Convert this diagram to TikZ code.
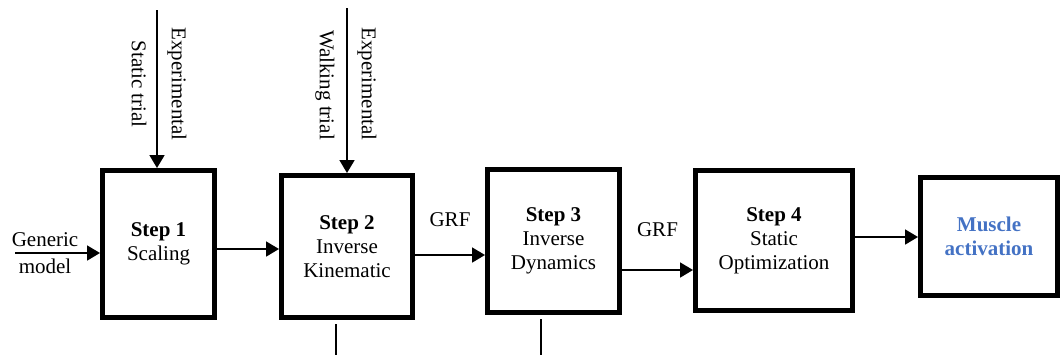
\documentclass[tikz,border=0pt]{standalone}
\usepackage{fontspec}
\setmainfont{Liberation Serif}
\usepackage{tikz}
\usetikzlibrary{arrows.meta,calc,positioning}
\definecolor{actblue}{RGB}{68,114,196}

\begin{document}
\begin{tikzpicture}[x=0.5pt,y=-0.5pt,font=\fontsize{10.5}{12}\selectfont,
stepbox/.style={draw,line width=2.5pt,align=center,inner sep=0pt},
arr/.style={-{Triangle[length=6.5pt,width=7.5pt]},line width=0.9pt},
vlabel/.style={rotate=-90,inner sep=1pt}]
\useasboundingbox (0,0) rectangle (1063,355);
\node (step1) at (158.5,244)[stepbox,minimum width=56pt,minimum height=73.5pt] {\textbf{Step 1}\\Scaling};
\node (step2) at (347,246.5)[stepbox,minimum width=65.5pt,minimum height=71pt] {\textbf{Step 2}\\Inverse\\Kinematic};
\node (step3) at (553.5,241)[stepbox,minimum width=66pt,minimum height=71.5pt] {\textbf{Step 3}\\Inverse\\Dynamics};
\node (step4) at (774,240.5)[stepbox,minimum width=78.5pt,minimum height=70pt] {\textbf{Step 4}\\Static\\Optimization};
\node (act) at (989,236.5)[stepbox,minimum width=68.5pt,minimum height=59pt,text=actblue,font=\fontsize{10.5}{12}\selectfont\bfseries] {Muscle\\activation};

% inputs
\coordinate (gen) at (15,253);
\node (genlbl) at (45,253)[align=center,inner sep=0pt] {Generic\\[1.5pt]model};
\draw[arr] (gen) -- (gen -| step1.west);

\coordinate (in1) at (157,10);
\coordinate (in2) at (347,8);
\draw[arr] (in1) -- (in1 |- step1.north);
\draw[arr] (in2) -- (in2 |- step2.north);
\node (exp1) at (177,84)[vlabel] {Experimental};
\node (stat) at (139,84)[vlabel] {Static trial};
\node (exp2) at (367,84)[vlabel] {Experimental};
\node (walk) at (325,85)[vlabel] {Walking trial};

% chain
\draw[arr] ([yshift=-2.5pt]step1.east) -- ([yshift=-2.5pt]step1.east -| step2.west);
\draw[arr] ([yshift=-4.25pt]step2.east) -- ([yshift=-4.25pt]step2.east -| step3.west) node[midway,above=10.5pt] {GRF};
\draw[arr] ([yshift=-14.5pt]step3.east) -- ([yshift=-14.5pt]step3.east -| step4.west) node[midway,above=13pt] {GRF};
\draw[arr] ([yshift=1.75pt]step4.east) -- ([yshift=1.75pt]step4.east -| act.west);

% outputs going down
\coordinate (out2) at (336,355);
\coordinate (out3) at (541,355);
\draw[line width=0.9pt] ([yshift=-2pt]step2.south -| out2) -- (out2);
\draw[line width=0.9pt] ([yshift=-2pt]step3.south -| out3) -- (out3);
\end{tikzpicture}
\end{document}
